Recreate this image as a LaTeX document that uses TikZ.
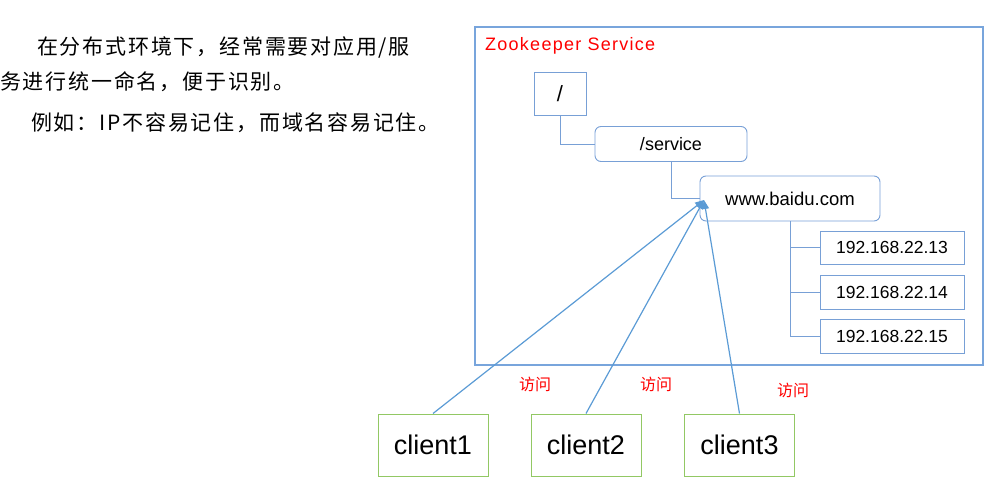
\documentclass[tikz,border=0pt]{standalone}
\usepackage{fontspec}
\setmainfont{Liberation Sans}
\newfontfamily\cjk{Noto Sans CJK SC}
\newfontfamily\cjkwide[LetterSpace=8.5]{Noto Sans CJK SC}
\newfontfamily\zkfont[LetterSpace=7]{Liberation Sans}
\usetikzlibrary{arrows.meta}
\definecolor{boxblue}{RGB}{120,160,214}
\definecolor{outerblue}{RGB}{120,165,220}
\definecolor{lineblue}{RGB}{91,155,213}
\definecolor{cligreen}{RGB}{146,200,100}
\tikzset{
  sqbox/.style={draw=boxblue, line width=0.9pt, inner sep=0pt, font=\fontsize{18}{20}\selectfont},
  rbox/.style={sqbox, rounded corners=6pt},
  client/.style={draw=cligreen, line width=1pt, inner sep=0pt, minimum width=110pt, minimum height=62pt, font=\fontsize{27}{30}\selectfont},
  tree/.style={draw=boxblue, line width=0.8pt},
  visit/.style={draw=lineblue, line width=1.2pt, -{Triangle[width=7pt,length=9pt]}},
  vlabel/.style={text=red, font=\cjk\fontsize{16}{18}\selectfont, inner sep=0pt},
  para/.style={anchor=west, inner sep=0pt, font=\cjkwide\fontsize{21}{24}\selectfont}
}
\begin{document}
\begin{tikzpicture}[x=1pt,y=-1pt]
\useasboundingbox (0,0) rectangle (1002,492);
% left text
\node[para] (t1) at (37,47) {在分布式环境下，经常需要对应用/服};
\node[para] (t2) at (0,82) {务进行统一命名，便于识别。};
\node[para] (t3) at (31,123) {例如：IP不容易记住，而域名容易记住。};
% outer service box
\node[draw=outerblue, line width=1.1pt, minimum width=508pt, minimum height=338pt, inner sep=0pt] (zk) at (729,196) {};
\node[anchor=west, text=red, inner sep=0pt, font=\zkfont\fontsize{18}{20}\selectfont] (zkt) at (485,46) {Zookeeper Service};
% tree
\node[sqbox, minimum width=52pt, minimum height=43pt, font=\fontsize{22}{24}\selectfont] (root) at (560,93.5) {/};
\node[rbox, minimum width=152pt, minimum height=35pt] (svc) at (671,144) {/service};
\node[rbox, minimum width=180pt, minimum height=45pt, font=\fontsize{18.5}{20}\selectfont] (baidu) at (790,198.5) {www.baidu.com};
\node[sqbox, minimum width=144pt, minimum height=33pt, font=\fontsize{17.5}{20}\selectfont] (ip1) at (892,247.5) {192.168.22.13};
\node[sqbox, minimum width=144pt, minimum height=34pt, font=\fontsize{17.5}{20}\selectfont] (ip2) at (892,292) {192.168.22.14};
\node[sqbox, minimum width=144pt, minimum height=34pt, font=\fontsize{17.5}{20}\selectfont] (ip3) at (892,336) {192.168.22.15};
\draw[tree] (root.south) |- (svc.west);
\draw[tree] (svc.south) |- (baidu.west);
\draw[tree] (baidu.south) |- (ip1.west);
\draw[tree] (baidu.south) |- (ip2.west);
\draw[tree] (baidu.south) |- (ip3.west);
% clients
\node[client] (c1) at (433,445) {client1};
\node[client] (c2) at (586,445) {client2};
\node[client] (c3) at (739.5,445) {client3};
\coordinate (hit) at (704,200);
\draw[visit] (c1.north) -- (hit);
\draw[visit] (c2.north) -- (hit);
\draw[visit] (c3.north) -- (hit);
\node[vlabel] (v1) at (535,384) {访问};
\node[vlabel] (v2) at (656,384) {访问};
\node[vlabel] (v3) at (793,390) {访问};
\end{tikzpicture}
\end{document}
